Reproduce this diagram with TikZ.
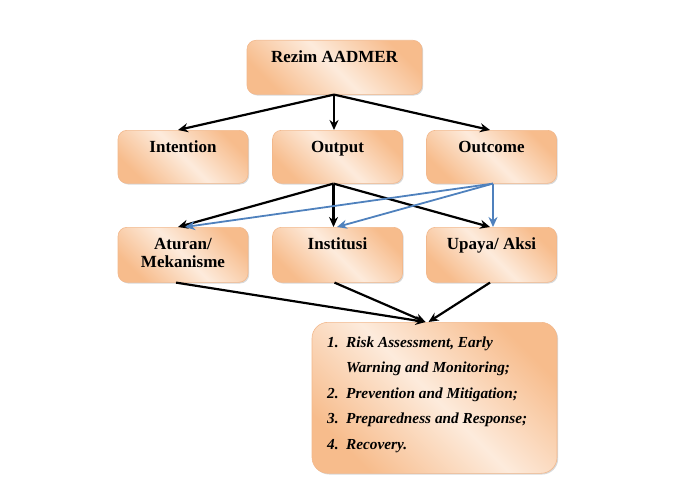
\documentclass[tikz,border=0pt]{standalone}
\usepackage{fontspec}
\setmainfont{Liberation Serif}
\usetikzlibrary{arrows.meta,shadows}
\definecolor{pdark}{RGB}{247,188,140}
\definecolor{plight}{RGB}{253,235,220}
\definecolor{pedge}{RGB}{242,184,140}
\definecolor{ablue}{RGB}{79,129,189}
\pgfdeclarehorizontalshading{peach}{100bp}{color(0bp)=(pdark); color(25bp)=(pdark); color(50bp)=(plight); color(75bp)=(pdark); color(100bp)=(pdark)}
\tikzset{
  box/.style={draw=pedge, line width=0.6pt, rounded corners=9pt, shading=peach, shading angle=45,
    drop shadow={opacity=0.25, shadow xshift=1.2pt, shadow yshift=-1.2pt, fill=black!60},
    inner xsep=2pt, inner ysep=0pt, anchor=north, text height=22pt,
    font=\bfseries\fontsize{17}{18}\selectfont},
  rowa/.style={box, minimum width=130pt, text depth=31pt},
  rowb/.style={box, minimum width=130pt, text depth=33pt},
  blk/.style={draw=black, line width=2.2pt, -{Stealth[length=10pt,width=9pt]}},
  blu/.style={draw=ablue, line width=1.8pt, -{Stealth[length=10pt,width=9pt]}},
}
\begin{document}
\begin{tikzpicture}[x=1pt,y=-1pt]
\useasboundingbox (0,0) rectangle (687,495);
% boxes
\node[box, minimum width=175pt, text depth=32pt] (rezim) at (334.5,40) {Rezim AADMER};
\node[rowa] (intention) at (183,130) {Intention};
\node[rowa] (output) at (337.5,130) {Output};
\node[rowa] (outcome) at (491.5,130) {Outcome};
\node[rowb] (aturan) at (183,227) {\begin{tabular}[t]{@{}c@{}}Aturan/\\Mekanisme\end{tabular}};
\node[rowb] (institusi) at (337.5,227) {Institusi};
\node[rowb] (upaya) at (491.5,227) {Upaya/ Aksi};
\node[box, minimum width=245pt, minimum height=151pt, text height=0pt, text depth=0pt, rounded corners=16pt] (pilar) at (434.5,322) {};
\node[anchor=base west, inner sep=0pt, align=left,
      font=\bfseries\itshape\fontsize{15.3}{25.6}\selectfont] (list) at (327,347)
  {\begin{tabular}[t]{@{}l@{}l@{}}
   \makebox[19pt][l]{1.} & Risk Assessment, Early\\
   & Warning and Monitoring;\\
   \makebox[19pt][l]{2.} & Prevention and Mitigation;\\
   \makebox[19pt][l]{3.} & Preparedness and Response;\\
   \makebox[19pt][l]{4.} & Recovery.
   \end{tabular}};
% coordinates
\coordinate (rz) at ([xshift=-0.5pt]rezim.south);
\coordinate (op) at ([xshift=-4pt]output.south);
\coordinate (oc) at ([xshift=1.5pt]outcome.south);
\coordinate (pin) at ([xshift=-9pt]pilar.north);
\coordinate (pin2) at ([xshift=-6pt]pilar.north);
% black arrows
\draw[blk] (rz) -- ([xshift=-5pt]intention.north);
\draw[blk] (rz) -- (rz |- output.north);
\draw[blk] (rz) -- ([xshift=-1.5pt]outcome.north);
\draw[blk] (op) -- ([xshift=-5pt]aturan.north);
\draw[blk] (op) -- (op |- institusi.north);
\draw[blk] (op) -- ([xshift=-1.5pt]upaya.north);
\draw[blk] ([xshift=-7pt]aturan.south) -- (pin);
\draw[blk] ([xshift=-3pt]institusi.south) -- (pin);
\draw[blk] ([xshift=-1.5pt]upaya.south) -- (pin2);
% blue arrows
\draw[blu] (oc) -- ([xshift=2pt]aturan.north);
\draw[blu] (oc) -- ([xshift=-0.5pt]institusi.north);
\draw[blu] (oc) -- (oc |- upaya.north);
\end{tikzpicture}
\end{document}
